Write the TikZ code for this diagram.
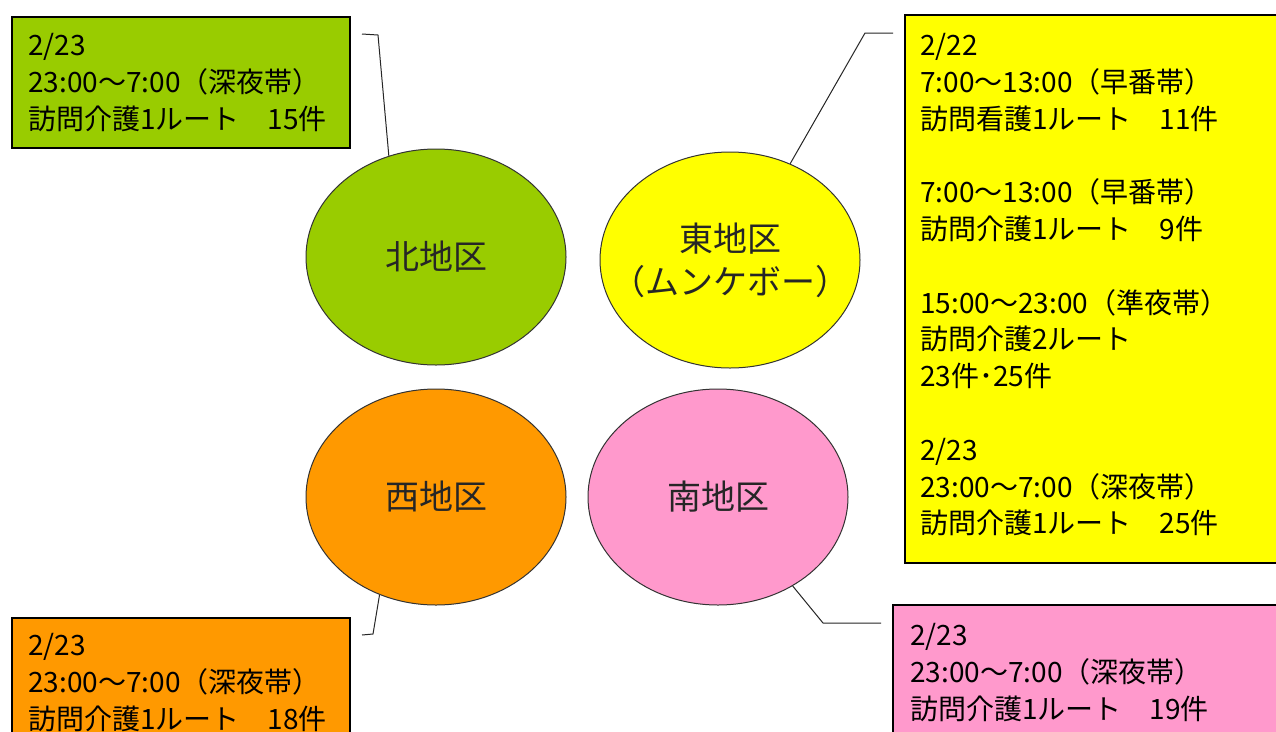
\documentclass[tikz,border=0pt]{standalone}
\usepackage{fontspec}
\setmainfont{Noto Sans CJK JP}
\usetikzlibrary{shapes.geometric}
\definecolor{cgreen}{HTML}{99CC00}
\definecolor{cyellow}{HTML}{FFFF00}
\definecolor{corange}{HTML}{FF9900}
\definecolor{cpink}{HTML}{FF99CC}
\begin{document}
\begin{tikzpicture}[x=1pt,y=-1pt,
  boxframe/.style={draw=black, line width=1.2pt},
  boxtext/.style={anchor=north west, align=left, inner sep=0pt,
    font=\fontsize{28pt}{36.8pt}\selectfont},
  area/.style={ellipse, draw=black!80, line width=1pt, minimum width=260pt,
    minimum height=216pt, inner sep=0pt, align=center, text=black!85,
    font=\fontsize{34pt}{43pt}\selectfont},
  leader/.style={draw=black!85, line width=1pt}]
\useasboundingbox (0,0) rectangle (1276,731);
\clip (0,0) rectangle (1276,731);
\fill[white] (0,0) rectangle (1276,731);

% ellipses
\node[area, fill=cgreen] (north) at (436,257) {北地区};
\node[area, fill=cyellow] (east) at (730,260) {東地区\\\makebox[0pt]{（ムンケボー）}};
\node[area, fill=corange] (west) at (436,497) {西地区};
\node[area, fill=cpink] (south) at (718,497) {南地区};

% boxes
\filldraw[boxframe, fill=cgreen] (12,17) rectangle (350,148);
\filldraw[boxframe, fill=cyellow] (905,15) rectangle (1290,563);
\filldraw[boxframe, fill=corange] (12,618) rectangle (350,745);
\filldraw[boxframe, fill=cpink] (893,605) rectangle (1290,740);

\node[boxtext] (ntext) at (28,33)
  {2/23\\23:00～7:00（深夜帯）\\訪問介護1ルート　15件};
\node[boxtext] (etext) at (920,33)
  {2/22\\7:00～13:00（早番帯）\\訪問看護1ルート　11件\\~\\7:00～13:00（早番帯）\\訪問介護1ルート　9件\\~\\15:00～23:00（準夜帯）\\訪問介護2ルート\\23件･25件\\~\\2/23\\23:00～7:00（深夜帯）\\訪問介護1ルート　25件};
\node[boxtext] (wtext) at (28,633)
  {2/23\\23:00～7:00（深夜帯）\\訪問介護1ルート　18件};
\node[boxtext] (stext) at (910,623)
  {2/23\\23:00～7:00（深夜帯）\\訪問介護1ルート　19件};

% leader lines
\coordinate (n1) at (378,35);
\coordinate (n2) at (362,34);
\coordinate (e1) at (865,33);
\coordinate (e2) at (893,33);
\coordinate (w1) at (373,634);
\coordinate (w2) at (362,635);
\coordinate (s1) at (823,623);
\coordinate (s2) at (881,623);
\draw[leader] (north.115) -- (n1) -- (n2);
\draw[leader] (east.58) -- (e1) -- (e2);
\draw[leader] (west.240) -- (w1) -- (w2);
\draw[leader] (south.310) -- (s1) -- (s2);
\end{tikzpicture}
\end{document}
